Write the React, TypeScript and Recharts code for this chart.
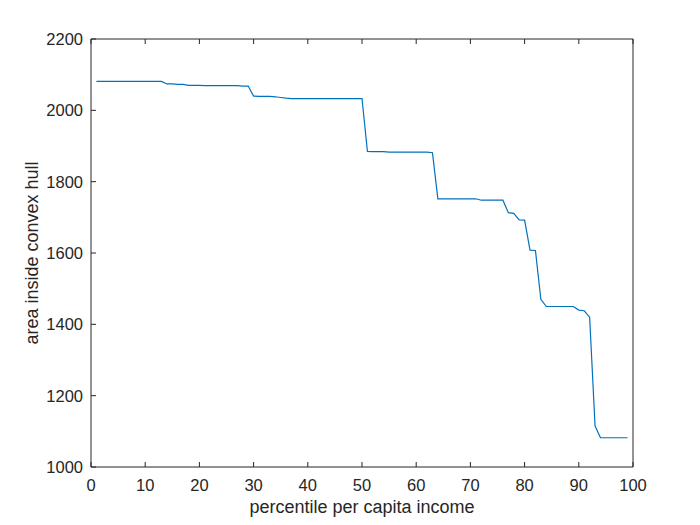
import { LineChart, Line, XAxis, YAxis } from 'recharts';

// percentile of per capita income (x) and area inside the convex hull (y)
const percentiles = [
  1, 2, 3, 4, 5, 6, 7, 8, 9, 10, 11, 12, 13, 14, 15, 16, 17, 18, 19, 20,
  21, 22, 23, 24, 25, 26, 27, 28, 29, 30, 31, 32, 33, 34, 35, 36, 37, 38, 39, 40,
  41, 42, 43, 44, 45, 46, 47, 48, 49, 50, 51, 52, 53, 54, 55, 56, 57, 58, 59, 60,
  61, 62, 63, 64, 65, 66, 67, 68, 69, 70, 71, 72, 73, 74, 75, 76, 77, 78, 79, 80,
  81, 82, 83, 84, 85, 86, 87, 88, 89, 90, 91, 92, 93, 94, 95, 96, 97, 98, 99,
];

const hullArea = [
  2081, 2081, 2081, 2081, 2081, 2081, 2081, 2081, 2081, 2081, 2081, 2081, 2081,
  2074, 2074, 2073, 2073,
  2070, 2070, 2070, 2069, 2069, 2069, 2069, 2069, 2069, 2069, 2068, 2068,
  2040, 2039, 2039, 2039, 2038, 2036,
  2034, 2033, 2033, 2033, 2033, 2033, 2033, 2033, 2033, 2033, 2033, 2033, 2033, 2033, 2033,
  1885, 1884, 1884, 1884, 1883, 1883, 1883, 1883, 1883, 1883, 1883, 1883, 1881,
  1752, 1752, 1752, 1752, 1752, 1752, 1752, 1752,
  1748, 1748, 1748, 1748, 1748,
  1713, 1711, 1693, 1692, 1608, 1607, 1470, 1450,
  1450, 1450, 1450, 1450, 1450,
  1440, 1438, 1420, 1115, 1082,
  1082, 1082, 1082, 1082, 1082,
];

const xTicks = [0, 10, 20, 30, 40, 50, 60, 70, 80, 90, 100];
const yTicks = [1000, 1200, 1400, 1600, 1800, 2000, 2200];

const data = percentiles.map((p, i) => ({ p, area: hullArea[i] }));

const INK = '#262626';
const FONT = '"Liberation Sans", Arial, Helvetica, sans-serif';
const TICK_LEN = 5;

// MATLAB style: tick marks point into the plot box
const BottomTick = (props: any) => {
  const { x, y, payload } = props;
  return (
    <g>
      <line x1={x} y1={y} x2={x} y2={y - TICK_LEN} stroke={INK} />
      <text x={x} y={y + 24} textAnchor="middle" fill={INK} fontSize={16.5} fontFamily={FONT}>
        {payload.value}
      </text>
    </g>
  );
};

const LeftTick = (props: any) => {
  const { x, y, payload } = props;
  return (
    <g>
      <line x1={x} y1={y} x2={x + TICK_LEN} y2={y} stroke={INK} />
      <text x={x - 8} y={y + 6} textAnchor="end" fill={INK} fontSize={16.5} fontFamily={FONT}>
        {payload.value}
      </text>
    </g>
  );
};

const TopTick = (props: any) => {
  const { x, y } = props;
  return <line x1={x} y1={y} x2={x} y2={y + TICK_LEN} stroke={INK} />;
};

const RightTick = (props: any) => {
  const { x, y } = props;
  return <line x1={x} y1={y} x2={x - TICK_LEN} y2={y} stroke={INK} />;
};

export default function App() {
  return (
    <div style={{ position: 'absolute', left: 0, top: 0, width: 700, height: 525, background: '#fff' }}>
      <LineChart width={700} height={525} data={data} margin={{ top: 0, right: 0, left: 0, bottom: 0 }}>
        <XAxis
          xAxisId="bottom"
          dataKey="p"
          type="number"
          domain={[0, 100]}
          ticks={xTicks}
          interval={0}
          height={58}
          tickSize={0}
          tickMargin={0}
          tickLine={false}
          axisLine={{ stroke: INK }}
          tick={BottomTick}
          label={{
            content: () => (
              <text x={362} y={513} textAnchor="middle" fill={INK} fontSize={18} fontFamily={FONT}>
                percentile per capita income
              </text>
            ),
          }}
        />
        <XAxis
          xAxisId="top"
          orientation="top"
          dataKey="p"
          type="number"
          domain={[0, 100]}
          ticks={xTicks}
          interval={0}
          height={39}
          tickSize={0}
          tickMargin={0}
          tickLine={false}
          axisLine={{ stroke: INK }}
          tick={TopTick}
        />
        <YAxis
          yAxisId="left"
          type="number"
          domain={[1000, 2200]}
          ticks={yTicks}
          interval={0}
          width={91}
          tickSize={0}
          tickMargin={0}
          tickLine={false}
          axisLine={{ stroke: INK }}
          tick={LeftTick}
          label={{
            content: () => (
              <text
                transform="translate(38,253) rotate(-90)"
                textAnchor="middle"
                fill={INK}
                fontSize={18}
                fontFamily={FONT}
              >
                area inside convex hull
              </text>
            ),
          }}
        />
        <YAxis
          yAxisId="right"
          orientation="right"
          type="number"
          domain={[1000, 2200]}
          ticks={yTicks}
          interval={0}
          width={67}
          tickSize={0}
          tickMargin={0}
          tickLine={false}
          axisLine={{ stroke: INK }}
          tick={RightTick}
        />
        <Line
          xAxisId="bottom"
          yAxisId="left"
          type="linear"
          dataKey="area"
          stroke="#0072BD"
          strokeWidth={1.2}
          dot={false}
          activeDot={false}
          isAnimationActive={false}
        />
      </LineChart>
    </div>
  );
}
